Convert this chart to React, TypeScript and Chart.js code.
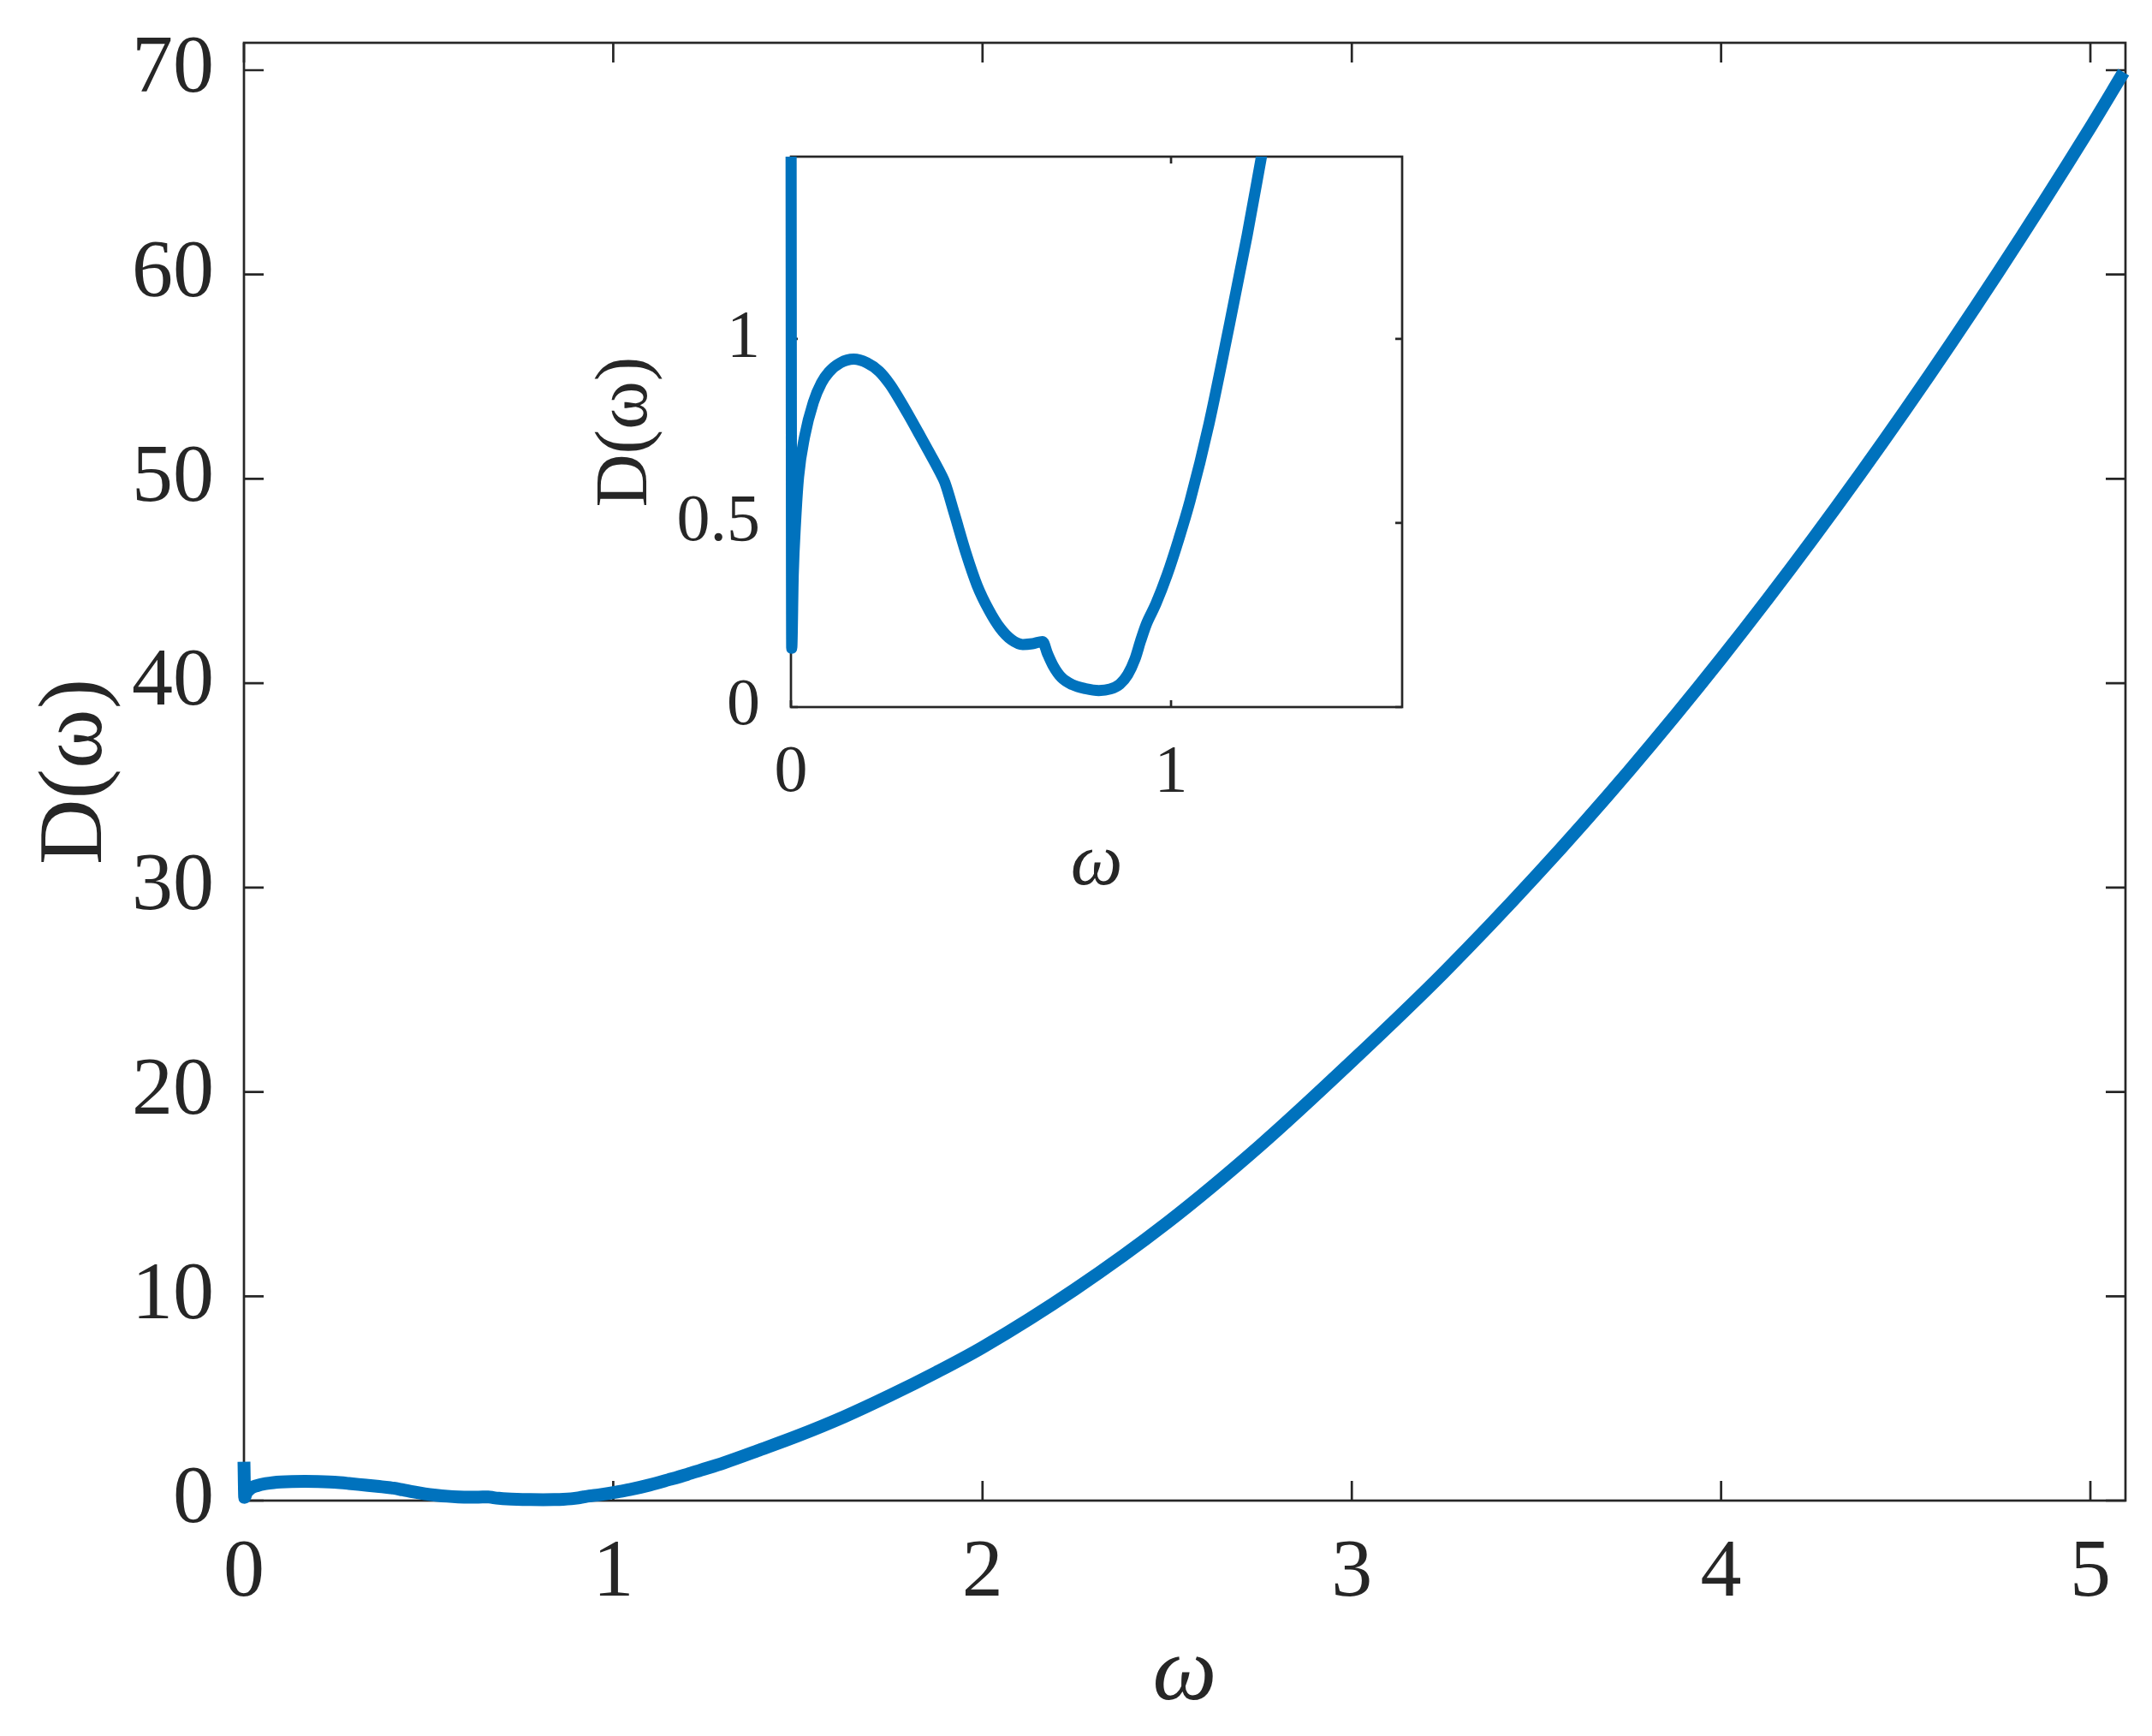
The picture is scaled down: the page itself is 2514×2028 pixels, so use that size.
import React, { useEffect, useRef } from 'react';
import { Chart, registerables } from 'chart.js';

Chart.register(...registerables);

// ω values (x) and D(ω) values (y)
const omega = [
  0, 0.002, 0.006, 0.012, 0.02, 0.036, 0.059, 0.08, 0.1, 0.13,
  0.165, 0.2, 0.232, 0.26, 0.284, 0.31, 0.336, 0.366, 0.397, 0.405,
  0.43, 0.46, 0.49, 0.52, 0.55, 0.58, 0.61, 0.635, 0.662, 0.675,
  0.69, 0.712, 0.74, 0.775, 0.81, 0.84, 0.865, 0.886, 0.905, 0.92,
  0.935, 0.96, 0.99, 1.02, 1.05, 1.1, 1.15, 1.2, 1.237, 1.3,
  1.4, 1.5, 1.625, 1.75, 1.875, 2.0, 2.25, 2.5, 2.75, 3.0,
  3.25, 3.5, 3.75, 4.0, 4.25, 4.5, 4.75, 5.0, 5.09,
];
const dOmega = [
  1.9, 0.16, 0.36, 0.5, 0.625, 0.735, 0.828, 0.88, 0.91, 0.935,
  0.945, 0.935, 0.912, 0.877, 0.838, 0.792, 0.744, 0.688, 0.628, 0.61,
  0.525, 0.42, 0.33, 0.265, 0.215, 0.183, 0.17, 0.172, 0.178, 0.145,
  0.112, 0.08, 0.061, 0.05, 0.045, 0.049, 0.062, 0.088, 0.13, 0.18,
  0.225, 0.28, 0.36, 0.455, 0.56, 0.77, 1.02, 1.28, 1.49, 1.85,
  2.5, 3.17, 4.1, 5.15, 6.28, 7.5, 10.34, 13.6, 17.35, 21.5,
  25.86, 30.6, 35.7, 41.2, 47.1, 53.4, 60.1, 67.2, 69.9,
];

// axis limits and tick steps
const mainXLimits = [0, 5.095];
const mainYLimits = [0, 71.34];
const mainXStep = 1;
const mainYStep = 10;
const insetXLimits = [0, 1.608];
const insetYLimits = [0, 1.495];
const insetXStep = 1;
const insetYStep = 0.5;

const xTitle = 'ω';
const yTitle = 'D(ω)';

const SERIF = "'Liberation Serif', 'Times New Roman', Times, serif";
const INK = '#262626';
const LINE = '#0072BD';

const fmt = (v: number) => `${Math.round(v * 1000) / 1000}`;

const boxTicks = {
  id: 'boxTicks',
  beforeDatasetsDraw(chart: any, _args: any, opts: any) {
    const { ctx, chartArea } = chart;
    const { left, right, top, bottom } = chartArea;
    const xs = chart.scales.x;
    const ys = chart.scales.y;
    const len = opts.tickLength;
    ctx.save();
    ctx.strokeStyle = opts.color;
    ctx.lineWidth = opts.lineWidth;
    ctx.lineCap = 'butt';
    ctx.beginPath();
    for (const t of xs.ticks) {
      const px = xs.getPixelForValue(t.value);
      ctx.moveTo(px, bottom);
      ctx.lineTo(px, bottom - len);
      ctx.moveTo(px, top);
      ctx.lineTo(px, top + len);
    }
    for (const t of ys.ticks) {
      const py = ys.getPixelForValue(t.value);
      ctx.moveTo(left, py);
      ctx.lineTo(left + len, py);
      ctx.moveTo(right, py);
      ctx.lineTo(right - len, py);
    }
    ctx.stroke();
    ctx.strokeRect(left, top, right - left, bottom - top);
    ctx.restore();
  },
};

type AxCfg = {
  xLim: number[];
  yLim: number[];
  xStep: number;
  yStep: number;
  padding: { left: number; top: number; right: number; bottom: number };
  yWidth: number;
  xHeight: number;
  tickFont: number;
  titleFont: number;
  xTickPad: number;
  yTickPad: number;
  xTitlePadBottom: number;
  yTitlePadTop: number;
  tickLength: number;
  lineWidth: number;
  clip: any;
};

const zeroPad = (s: any) => {
  s.paddingTop = 0;
  s.paddingBottom = 0;
  s.paddingLeft = 0;
  s.paddingRight = 0;
};

function buildConfig(c: AxCfg): any {
  const points = omega.map((w, i) => ({ x: w, y: dOmega[i] }));
  return {
    type: 'line',
    data: {
      datasets: [
        {
          data: points,
          borderColor: LINE,
          backgroundColor: LINE,
          borderWidth: c.lineWidth,
          pointRadius: 0,
          fill: false,
          tension: 0.4,
          cubicInterpolationMode: 'monotone',
          borderJoinStyle: 'round',
          borderCapStyle: 'butt',
          clip: c.clip,
        },
      ],
    },
    options: {
      responsive: false,
      animation: false,
      devicePixelRatio: 1,
      events: [],
      layout: { padding: c.padding },
      plugins: {
        legend: { display: false },
        tooltip: { enabled: false },
        boxTicks: { tickLength: c.tickLength, lineWidth: 2.7, color: INK },
      },
      scales: {
        x: {
          type: 'linear',
          min: c.xLim[0],
          max: c.xLim[1],
          grid: { display: false, drawTicks: false, tickLength: 0 },
          border: { display: false },
          ticks: {
            stepSize: c.xStep,
            includeBounds: false,
            autoSkip: false,
            maxRotation: 0,
            padding: c.xTickPad,
            color: INK,
            font: { family: SERIF, size: c.tickFont },
            callback: (v: number) => fmt(v),
          },
          title: {
            display: true,
            text: xTitle,
            color: INK,
            font: { family: SERIF, size: c.titleFont, style: 'italic' },
            padding: { top: 0, bottom: c.xTitlePadBottom },
          },
          afterFit: (s: any) => {
            s.height = c.xHeight;
            zeroPad(s);
          },
        },
        y: {
          type: 'linear',
          min: c.yLim[0],
          max: c.yLim[1],
          grid: { display: false, drawTicks: false, tickLength: 0 },
          border: { display: false },
          ticks: {
            stepSize: c.yStep,
            includeBounds: false,
            autoSkip: false,
            padding: c.yTickPad,
            color: INK,
            font: { family: SERIF, size: c.tickFont },
            callback: (v: number) => fmt(v),
          },
          title: {
            display: true,
            text: yTitle,
            color: INK,
            font: { family: SERIF, size: c.titleFont },
            padding: { top: c.yTitlePadTop, bottom: 0 },
          },
          afterFit: (s: any) => {
            s.width = c.yWidth;
            zeroPad(s);
          },
        },
      },
    },
    plugins: [boxTicks],
  };
}

const MAIN_W = 2514;
const MAIN_H = 2028;
const INSET_LEFT = 660;
const INSET_TOP = 150;
const INSET_W = 1020;
const INSET_H = 950;

export default function App() {
  const mainRef = useRef<HTMLCanvasElement | null>(null);
  const insetRef = useRef<HTMLCanvasElement | null>(null);

  useEffect(() => {
    const main = new Chart(
      mainRef.current as HTMLCanvasElement,
      buildConfig({
        xLim: mainXLimits,
        yLim: mainYLimits,
        xStep: mainXStep,
        yStep: mainYStep,
        padding: { left: 0, top: 50, right: MAIN_W - 2483, bottom: 0 },
        yWidth: 285,
        xHeight: MAIN_H - 1753,
        tickFont: 96,
        titleFont: 106,
        xTickPad: 28,
        yTickPad: 35,
        xTitlePadBottom: 7,
        yTitlePadTop: 27,
        tickLength: 23,
        lineWidth: 15,
        clip: false,
      })
    );
    const inset = new Chart(
      insetRef.current as HTMLCanvasElement,
      buildConfig({
        xLim: insetXLimits,
        yLim: insetYLimits,
        xStep: insetXStep,
        yStep: insetYStep,
        padding: { left: 0, top: 183 - INSET_TOP, right: INSET_W - (1638 - INSET_LEFT), bottom: 0 },
        yWidth: 924 - INSET_LEFT,
        xHeight: INSET_H - (826 - INSET_TOP),
        tickFont: 78,
        titleFont: 86,
        xTickPad: 31,
        yTickPad: 36,
        xTitlePadBottom: 38,
        yTitlePadTop: 21,
        tickLength: 8,
        lineWidth: 13,
        clip: { left: 20, top: 0, right: 0, bottom: 20 },
      })
    );
    return () => {
      main.destroy();
      inset.destroy();
    };
  }, []);

  return (
    <div
      style={{
        position: 'absolute',
        left: 0,
        top: 0,
        width: MAIN_W,
        height: MAIN_H,
        background: '#ffffff',
        overflow: 'hidden',
      }}
    >
      <canvas
        ref={mainRef}
        width={MAIN_W}
        height={MAIN_H}
        style={{ position: 'absolute', left: 0, top: 0, width: MAIN_W, height: MAIN_H }}
      />
      <canvas
        ref={insetRef}
        width={INSET_W}
        height={INSET_H}
        style={{ position: 'absolute', left: INSET_LEFT, top: INSET_TOP, width: INSET_W, height: INSET_H }}
      />
    </div>
  );
}
